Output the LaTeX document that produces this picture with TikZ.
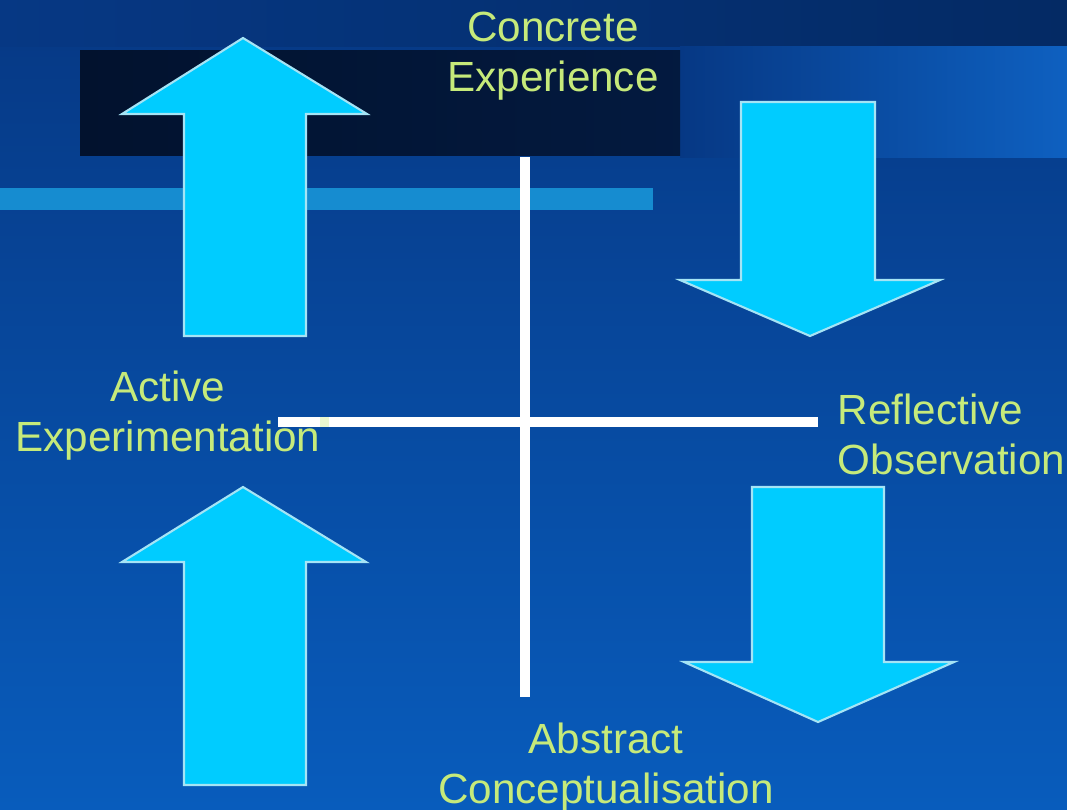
\documentclass[tikz,border=0pt]{standalone}
\usepackage{fontspec}
\setmainfont{Liberation Sans}
\definecolor{bgtop}{RGB}{6,56,132}
\definecolor{bgbot}{RGB}{8,92,188}
\definecolor{navy}{RGB}{2,18,46}
\definecolor{topstrip}{RGB}{4,42,100}
\definecolor{bandright}{RGB}{14,96,192}
\definecolor{barblue}{RGB}{22,140,208}
\definecolor{arrowfill}{RGB}{0,204,255}
\definecolor{arrowedge}{RGB}{165,228,245}
\definecolor{labelgreen}{RGB}{198,234,122}
\tikzset{
  arrowbody/.style={fill=arrowfill, draw=arrowedge, line width=0.6pt, line join=miter},
  axisline/.style={white, line width=0.1cm},
  stagelabel/.style={text=labelgreen, font=\fontsize{12}{14.2}\selectfont, inner sep=0pt}
}
\begin{document}
\begin{tikzpicture}[x=0.01cm, y=-0.01cm]
		% background
		\shade[top color=bgtop, bottom color=bgbot] (0,0) rectangle (1067,809);
		\useasboundingbox (0,0) rectangle (1067,809);
		\shade[left color=bgtop, right color=topstrip] (0,0) rectangle (1067,46);
		\shade[left color=bgtop, right color=bandright] (680,46) rectangle (1067,157);
		\shade[left color=navy, right color=navy!80!bgtop] (80,50) rectangle (680,155);
		\fill[barblue] (0,188) rectangle (653,210);
		% the four arrows: shaft left/right, head left/right, tip, head base, tail
		\foreach \sl/\sr/\hl/\hr/\tx/\ty/\hy/\ey in {184/306/122/367/243/38/114/336, 741/875/680/940/810/336/280/102, 752/884/684/954/818/722/662/487, 184/306/122/366/243/487/562/785} {
			\draw[arrowbody] (\sl,\ey) -- (\sl,\hy) -- (\hl,\hy) -- (\tx,\ty) -- (\hr,\hy) -- (\sr,\hy) -- (\sr,\ey) -- cycle;
		}
		% axes
		\coordinate (axtop) at (525,157);
		\coordinate (axbottom) at (525,697);
		\coordinate (axleft) at (278,422);
		\coordinate (axright) at (818,422);
		\draw[axisline] (axleft) -- (axright);
		\draw[axisline] (axtop) -- (axbottom);
		\fill[labelgreen!35!white] (320,417) rectangle (329,427);
		% stage labels
		\node[stagelabel, align=center] (concrete) at (553,56) {Concrete\\Experience};
		\node[stagelabel, align=center] (active) at (168,416) {Active\\Experimentation};
		\node[stagelabel, align=left, anchor=west] (reflective) at (837,434) {Reflective\\Observation};
		\node[stagelabel, align=center] (abstract) at (606,768) {Abstract\\Conceptualisation};
	\end{tikzpicture}
\end{document}
